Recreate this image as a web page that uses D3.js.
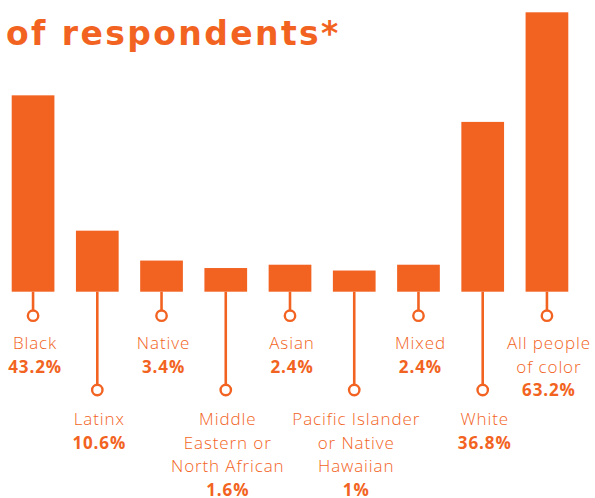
<!DOCTYPE html>
<html>
<head>
<meta charset="utf-8">
<script src="https://cdn.jsdelivr.net/npm/d3@7"></script>
<style>
  html, body { margin: 0; padding: 0; background: #fff; }
  svg { display: block; }
  text { font-family: "Open Sans", Lato, sans-serif; fill: #f26322; }
</style>
</head>
<body>
<div id="chart"></div>
<script>
// racial makeup of respondents
var categories = ["Black", "Latinx", "Native", "Middle Eastern or North African", "Asian",
  "Pacific Islander or Native Hawaiian", "Mixed", "White", "All people of color"];
var labelLines = [["Black"], ["Latinx"], ["Native"], ["Middle", "Eastern or", "North African"], ["Asian"],
  ["Pacific Islander", "or Native", "Hawaiian"], ["Mixed"], ["White"], ["All people", "of color"]];
var values = [43.2, 10.6, 3.4, 1.6, 2.4, 1, 2.4, 36.8, 63.2];
var valueLabels = ["43.2%", "10.6%", "3.4%", "1.6%", "2.4%", "1%", "2.4%", "36.8%", "63.2%"];

var width = 595,
  height = 498,
  base = 291.7,
  orange = "#f26322";

var data = categories.map(function(c, i) {
  return { name: c, lines: labelLines[i], value: values[i], label: valueLabels[i], row: i % 2 };
});

var x = d3.scaleBand()
  .domain(categories)
  .range([11.7, 568.3])
  .paddingInner(0.335)
  .paddingOuter(0);

// bars keep a small stub below zero so tiny values stay visible
var y = d3.scaleLinear()
  .domain([-4.1, 63.2])
  .range([base, 12.3]);

var svg = d3.select("#chart").append("svg")
  .attr("width", width)
  .attr("height", height);

svg.append("text")
  .attr("x", 6)
  .attr("y", 45)
  .style("font-family", "'DejaVu Sans', sans-serif")
  .style("font-size", "33px")
  .style("font-weight", 700)
  .style("letter-spacing", "2.4px")
  .text("of respondents*");

var g = svg.selectAll("g.bar").data(data).enter()
  .append("g")
  .attr("class", "bar");

g.append("rect")
  .attr("x", function(d) { return x(d.name); })
  .attr("y", function(d) { return y(d.value); })
  .attr("width", x.bandwidth())
  .attr("height", function(d) { return base - y(d.value); })
  .style("fill", orange);

var circleY = [315.7, 390],
  textY = [349, 425],
  lineH = 23.7;

function cx(d) { return x(d.name) + x.bandwidth() / 2; }

g.append("line")
  .attr("x1", cx)
  .attr("x2", cx)
  .attr("y1", base)
  .attr("y2", function(d) { return circleY[d.row] - 5.5; })
  .style("stroke", orange)
  .style("stroke-width", 2.6);

g.append("circle")
  .attr("cx", cx)
  .attr("cy", function(d) { return circleY[d.row]; })
  .attr("r", 5.2)
  .style("fill", "#fff")
  .style("stroke", orange)
  .style("stroke-width", 2.4);

var t = g.append("text")
  .attr("text-anchor", "middle")
  .attr("y", function(d) { return textY[d.row]; })
  .style("font-size", "17px")
  .style("letter-spacing", "0.9px");

t.selectAll("tspan.name")
  .data(function(d) { return d.lines.map(function(l) { return { l: l, x: cx(d) + 2 }; }); })
  .enter().append("tspan")
  .attr("class", "name")
  .attr("x", function(d) { return d.x; })
  .attr("dy", function(d, i) { return i ? lineH : 0; })
  .style("font-weight", 300)
  .text(function(d) { return d.l; });

t.append("tspan")
  .attr("x", function(d) { return cx(d) + 2; })
  .attr("dy", lineH)
  .style("font-weight", 700)
  .text(function(d) { return d.label; });
</script>
</body>
</html>
